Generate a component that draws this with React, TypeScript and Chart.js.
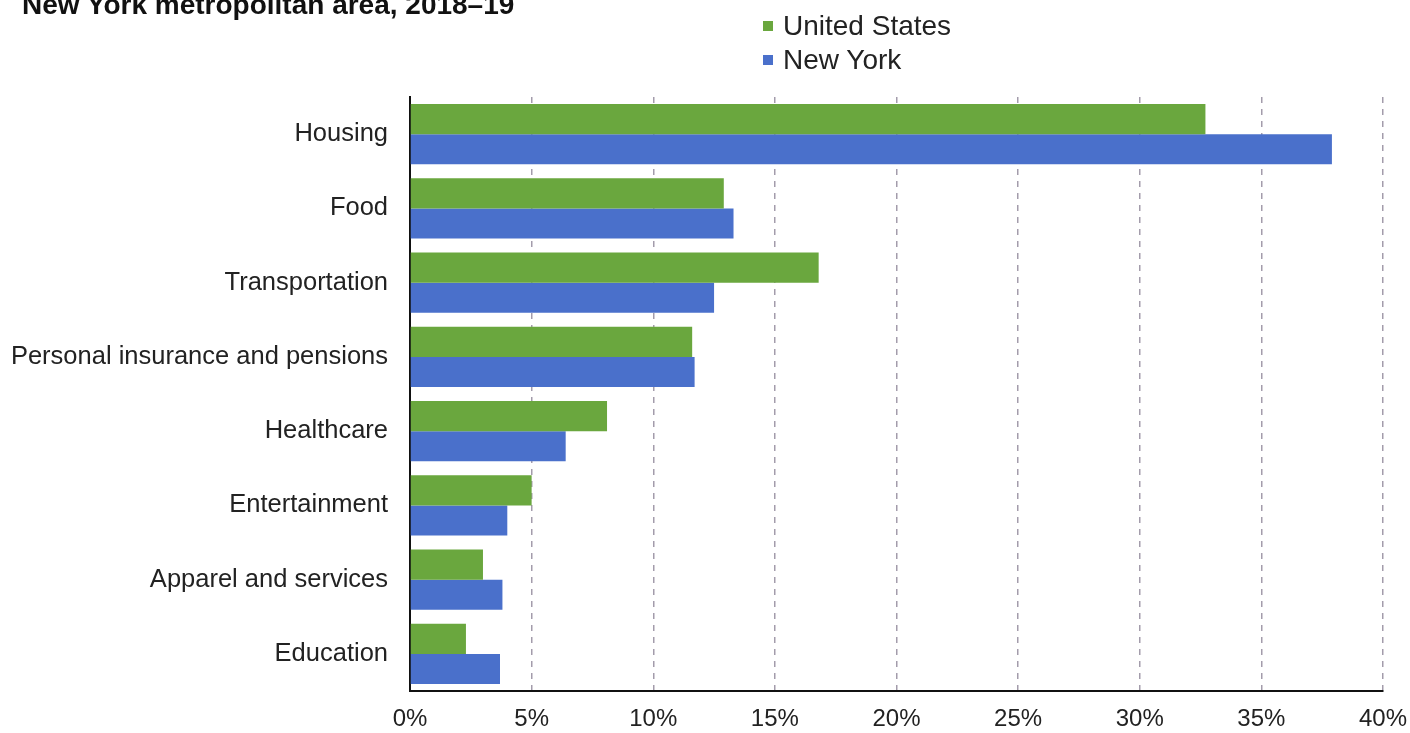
import React, { useEffect, useRef } from "react";
import { Chart, registerables } from "chart.js";

Chart.register(...registerables);

const categories = [
  "Housing",
  "Food",
  "Transportation",
  "Personal insurance and pensions",
  "Healthcare",
  "Entertainment",
  "Apparel and services",
  "Education",
];
const unitedStates = [32.7, 12.9, 16.8, 11.6, 8.1, 5.0, 3.0, 2.3];
const newYork = [37.9, 13.3, 12.5, 11.7, 6.4, 4.0, 3.8, 3.7];
const seriesNames = ["United States", "New York"];
const titleText = "New York metropolitan area, 2018–19";

const GREEN = "#6aa73e";
const BLUE = "#4a70cb";
const FONT = "'Liberation Sans', Arial, sans-serif";

export default function App() {
  const ref = useRef<HTMLCanvasElement | null>(null);

  useEffect(() => {
    if (!ref.current) return;
    const chart = new Chart(ref.current, {
      type: "bar",
      data: {
        labels: categories,
        datasets: [
          {
            label: seriesNames[0],
            data: unitedStates,
            backgroundColor: GREEN,
            categoryPercentage: 0.81,
            barPercentage: 1.0,
          },
          {
            label: seriesNames[1],
            data: newYork,
            backgroundColor: BLUE,
            categoryPercentage: 0.81,
            barPercentage: 1.0,
          },
        ],
      },
      options: {
        indexAxis: "y",
        responsive: false,
        animation: false,
        layout: { padding: { top: 97, right: 27, left: 0, bottom: 0 } },
        plugins: {
          legend: { display: false },
          title: { display: false },
          tooltip: { enabled: false },
        },
        scales: {
          x: {
            min: 0,
            max: 40,
            afterFit: (scale: any) => {
              scale.height = 42;
              scale.paddingLeft = 0;
              scale.paddingRight = 0;
            },
            ticks: {
              stepSize: 5,
              padding: 14,
              color: "#222",
              font: { family: FONT, size: 24 },
              callback: (v: any) => v + "%",
            },
            grid: {
              display: true,
              drawTicks: false,
              color: "#a39cab",
              lineWidth: 1.5,
            },
            border: { display: true, color: "#111", width: 2, dash: [6, 6] },
          },
          y: {
            afterFit: (scale: any) => {
              scale.width = 410;
              scale.paddingTop = 0;
              scale.paddingBottom = 0;
            },
            ticks: {
              padding: 22,
              color: "#222",
              font: { family: FONT, size: 25.5 },
            },
            grid: { display: false, drawTicks: false },
            border: { display: true, color: "#111", width: 2 },
          },
        },
      },
    });
    return () => chart.destroy();
  }, []);

  return (
    <div
      style={{
        position: "absolute",
        left: 0,
        top: 0,
        width: 1410,
        height: 733,
        background: "#fff",
        overflow: "hidden",
        fontFamily: FONT,
      }}
    >
      <canvas ref={ref} width={1410} height={733} style={{ position: "absolute", left: 0, top: 0 }} />
      <div
        style={{
          position: "absolute",
          left: 22,
          top: -9,
          fontSize: 28,
          lineHeight: "28px",
          fontWeight: "bold",
          color: "#111",
          whiteSpace: "nowrap",
        }}
      >
        {titleText}
      </div>
      {seriesNames.map((name, i) => (
        <div
          key={name}
          style={{
            position: "absolute",
            left: 763,
            top: 12 + i * 33.5,
            height: 28,
            display: "flex",
            alignItems: "center",
            whiteSpace: "nowrap",
          }}
        >
          <span
            style={{
              display: "inline-block",
              width: 10,
              height: 10,
              background: i === 0 ? GREEN : BLUE,
              marginRight: 10,
            }}
          />
          <span style={{ fontSize: 28, color: "#222", lineHeight: "28px" }}>{name}</span>
        </div>
      ))}
    </div>
  );
}
